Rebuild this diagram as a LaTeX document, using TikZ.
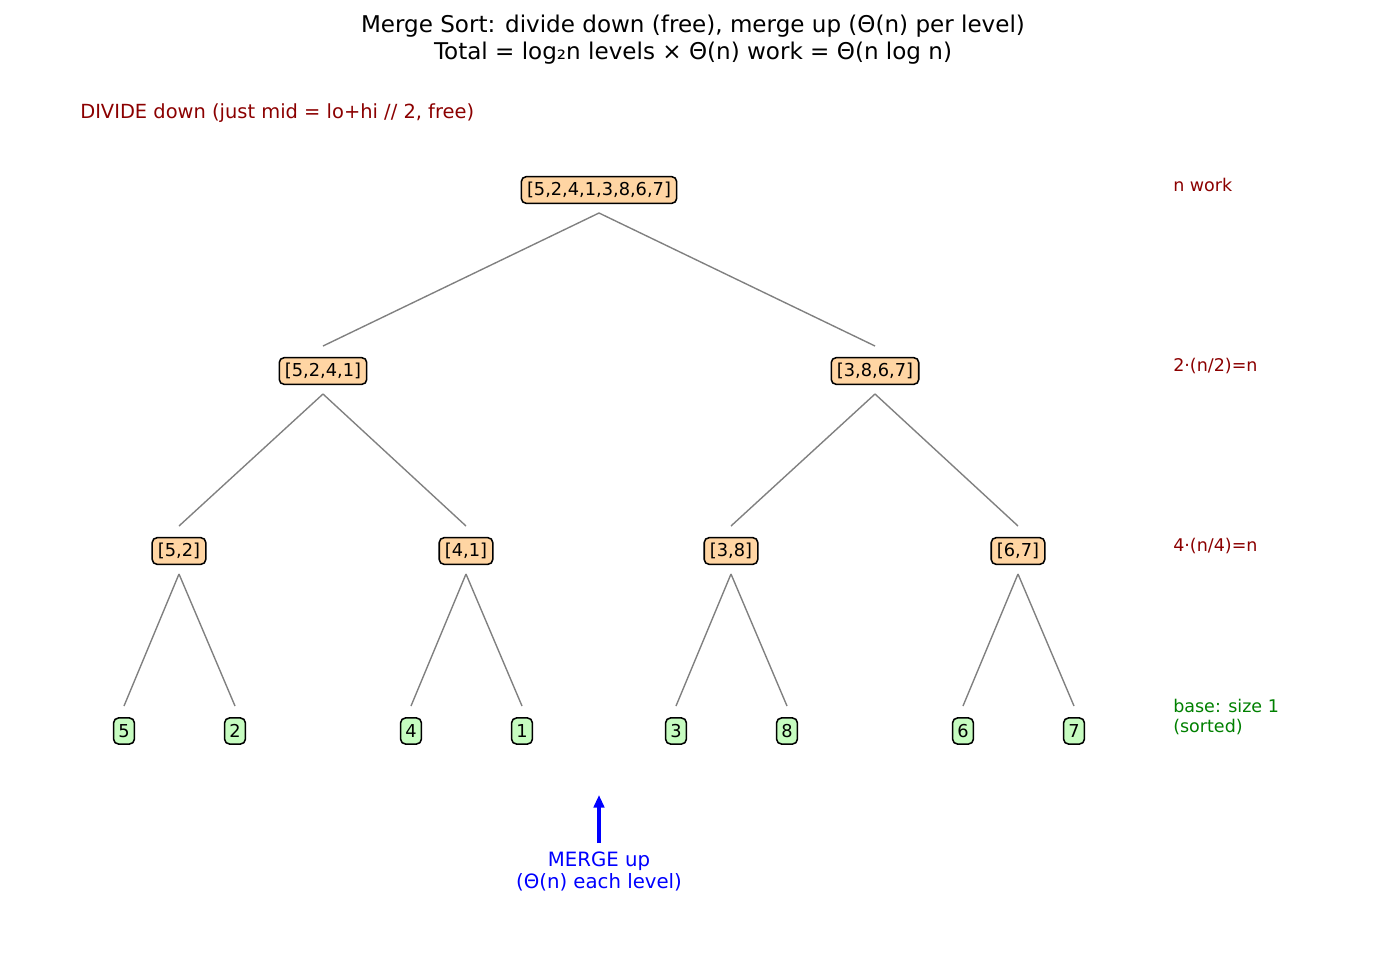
\documentclass[tikz,border=0pt]{standalone}
\usepackage{fontspec}
\setmainfont{DejaVu Sans}
\usetikzlibrary{arrows.meta}
\definecolor{nodeor}{HTML}{FFD5A3}
\definecolor{nodegr}{HTML}{C6FCC0}
\definecolor{lblred}{HTML}{8B0000}
\definecolor{lblgreen}{HTML}{008000}
\begin{document}
\begin{tikzpicture}[x=0.72pt,y=-0.72pt,
  arr/.style={draw=black, line width=1.1pt, rounded corners=3.5pt, inner xsep=4.1pt, inner ysep=0pt, minimum height=19.2pt, font=\fontsize{12.8}{15}\selectfont, anchor=center},
  inner/.style={arr, fill=nodeor},
  leaf/.style={arr, fill=nodegr, inner xsep=3.4pt, minimum height=18.8pt},
  edge/.style={draw=gray, line width=1pt},
  side/.style={anchor=west, align=left, font=\fontsize{12.6}{14.4}\selectfont, text=lblred, inner sep=0pt}]
\useasboundingbox (0,0) rectangle (1385,961);
\node[align=center, font=\fontsize{16.6}{19.5}\selectfont, inner sep=0pt] (title) at (693,40) {Merge Sort: divide down (free), merge up (Θ(n) per level)\\Total = log₂n levels × Θ(n) work = Θ(n log n)};
\node[anchor=west, font=\fontsize{14}{16}\selectfont, text=lblred, inner sep=0pt] (divide) at (80,113) {DIVIDE down (just mid = lo+hi // 2, free)};
% nodes
\node[inner] (r) at (599,190) {[5,2,4,1,3,8,6,7]};
\node[inner] (a) at (323,371) {[5,2,4,1]};
\node[inner] (b) at (875,371) {[3,8,6,7]};
\node[inner] (a1) at (179,551) {[5,2]};
\node[inner] (a2) at (466,551) {[4,1]};
\node[inner] (b1) at (731,551) {[3,8]};
\node[inner] (b2) at (1018,551) {[6,7]};
\node[leaf] (l1) at (124,731) {5};
\node[leaf] (l2) at (235,731) {2};
\node[leaf] (l3) at (411,731) {4};
\node[leaf] (l4) at (522,731) {1};
\node[leaf] (l5) at (676,731) {3};
\node[leaf] (l6) at (787,731) {8};
\node[leaf] (l7) at (963,731) {6};
\node[leaf] (l8) at (1074,731) {7};
% edge endpoints
\foreach \n/\x/\y in {r/599/189, a/323/370, b/875/370, a1/179/550, a2/466/550, b1/731/550, b2/1018/550, l1/124/730, l2/235/730, l3/411/730, l4/522/730, l5/676/730, l6/787/730, l7/963/730, l8/1074/730}{
  \coordinate (\n-t) at (\x,\y-24);
  \coordinate (\n-b) at (\x,\y+24);
}
\foreach \p/\c in {r/a, r/b, a/a1, a/a2, b/b1, b/b2, a1/l1, a1/l2, a2/l3, a2/l4, b1/l5, b1/l6, b2/l7, b2/l8}{
  \draw[edge] (\p-b) -- (\c-t);
}
% side labels
\node[side] (s1) at (1173,185) {n work};
\node[side] (s2) at (1173,366) {2·(n/2)=n};
\node[side] (s3) at (1173,546) {4·(n/4)=n};
\node[side, text=lblgreen] (s4) at (1173,717) {base: size 1\\(sorted)};
% merge arrow
\node[align=center, text=blue, font=\fontsize{14.2}{16}\selectfont, inner sep=0pt] (merge) at (599,871.5) {MERGE up\\(Θ(n) each level)};
\coordinate (mtop) at (599,795);
\coordinate (mbot) at (599,843);
\draw[blue, line width=2.2pt, -{Stealth[length=9pt,width=7.5pt,inset=0pt]}] (mbot) -- (mtop);
\end{tikzpicture}
\end{document}
